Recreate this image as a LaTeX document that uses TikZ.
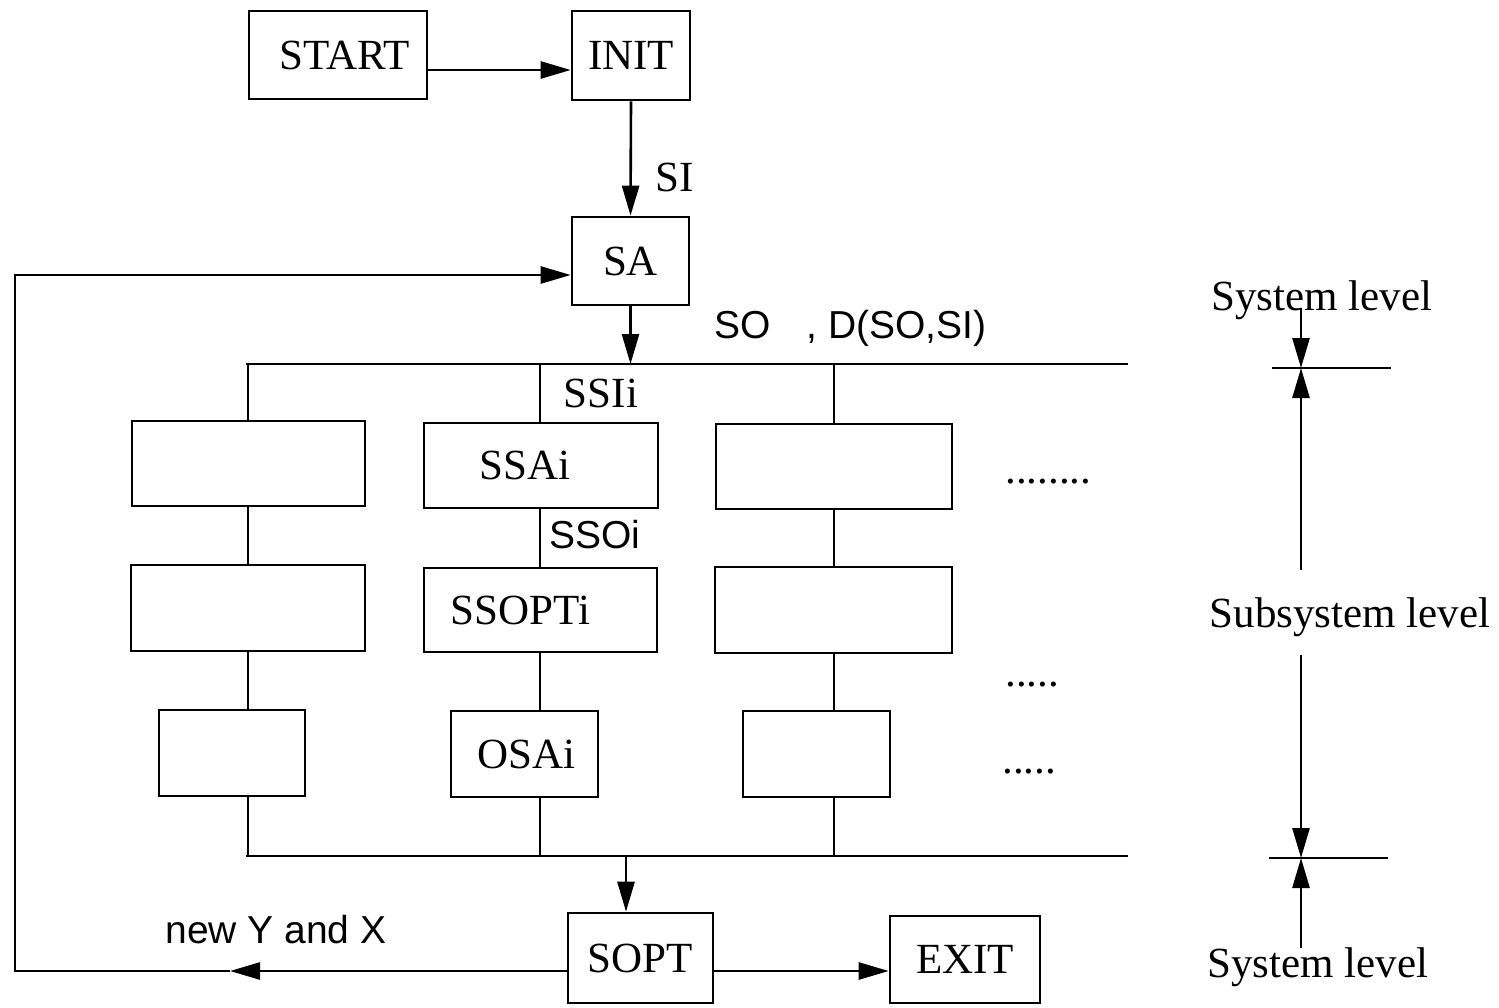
\documentclass[tikz,border=0pt]{standalone}
\usepackage{fontspec}
\setmainfont{Liberation Serif}
\newfontfamily\sansf{Liberation Sans}
\usetikzlibrary{arrows.meta,calc}
\begin{document}
\begin{tikzpicture}[x=0.5pt,y=-0.5pt, line width=1.3pt,
  box/.style={draw, rectangle, inner sep=0pt},
  lbl/.style={font=\fontsize{21.5pt}{24pt}\selectfont, inner sep=0pt},
  slbl/.style={font=\sansf\fontsize{19.5pt}{22pt}\selectfont, inner sep=0pt},
  arr/.style={-{Triangle[length=15pt,width=8.5pt]}},
  bus/.style={line width=1.3pt}]
\useasboundingbox (0,0) rectangle (1499,1007);

% top chain
\node[box, lbl, minimum width=89pt, minimum height=44pt] (start) at (338,55) {\hspace*{7pt}START};
\node[box, lbl, minimum width=59pt, minimum height=44.5pt] (init) at (631,55.5) {INIT};
\node[box, lbl, minimum width=58.5pt, minimum height=44pt] (sa) at (630.5,261) {SA};

\coordinate (sy) at (0,70);
\draw[arr] (start.east |- sy) -- (init.west |- sy);
\draw[arr] (init.south) -- (sa.south |- sa.north);
\node[lbl] (si) at (675,177) {SI};

% buses
\coordinate (tbL) at (246,364);
\coordinate (tbR) at (1128,364);
\coordinate (bbL) at (246,856);
\coordinate (bbR) at (1128,856);
\draw[bus] (tbL) -- (tbR);
\draw[bus] (bbL) -- (bbR);
\draw[arr] (sa.south) -- (sa.south |- tbL);
\node[slbl, anchor=base west] (so) at (713,338) {SO\hspace{18pt}, D(SO,SI)};

% subsystem boxes
\node[box, minimum width=116.5pt, minimum height=42.5pt] (l1) at (248.5,463.5) {};
\node[box, minimum width=117pt, minimum height=42.5pt, label={[lbl,xshift=-8pt]center:SSAi}] (m1) at (541,465.5) {};
\node[box, minimum width=118pt, minimum height=42.5pt] (r1) at (834,466.5) {};
\node[box, minimum width=117pt, minimum height=43pt] (l2) at (248,608) {};
\node[box, minimum width=116.5pt, minimum height=42pt, label={[lbl,xshift=-10pt]center:SSOPTi}] (m2) at (540.5,610) {};
\node[box, minimum width=118.5pt, minimum height=43pt] (r2) at (833.5,610) {};
\node[box, minimum width=73pt, minimum height=43pt] (l3) at (232,753) {};
\node[box, minimum width=73.5pt, minimum height=43pt, label={[lbl,xshift=1pt]center:OSAi}] (m3) at (524.5,754) {};
\node[box, minimum width=73.5pt, minimum height=43pt] (r3) at (816.5,754) {};

\node[lbl] (ssi) at (601,393) {SSIi};
\node[slbl] (sso) at (595,535) {SSOi};

% column connectors
\foreach \c/\x in {1/248,2/540,3/834}{
  \coordinate (c\c) at (\x,0);
}
\foreach \c/\col in {1/l,2/m,3/r}{
  \draw (c\c |- tbL) -- (c\c |- \col1.north);
  \draw (c\c |- \col1.south) -- (c\c |- \col2.north);
  \draw (c\c |- \col2.south) -- (c\c |- \col3.north);
  \draw (c\c |- \col3.south) -- (c\c |- bbL);
}

% dots
\node[lbl, anchor=base west] (d1) at (1004,483) {........};
\node[lbl, anchor=base west] (d2) at (1004,686) {.....};
\node[lbl, anchor=base west] (d3) at (1001,773) {.....};

% bottom
\node[box, lbl, minimum width=72.5pt, minimum height=45pt] (sopt) at (640.5,958) {SOPT};
\node[box, lbl, minimum width=75pt, minimum height=43.5pt] (exit) at (965,959.5) {EXIT};
\coordinate (sd) at (626,856);
\draw[arr] (sd) -- (sd |- sopt.north);
\coordinate (ey) at (0,971);
\draw[arr] (sopt.east |- ey) -- (exit.west |- ey);

% feedback loop
\coordinate (fbt) at (230,971);
\coordinate (fbc1) at (15,971);
\coordinate (fbc2) at (15,275);
\draw[arr] (sopt.west |- fbt) -- (fbt);
\draw[arr] (fbt) -- (fbc1) -- (fbc2) -- (sa.west |- fbc2);
\node[slbl] (newyx) at (276,930) {new Y and X};

% right-side level markers
\node[lbl, anchor=base] (sys1) at (1322,310) {System level};
\node[lbl, anchor=base] (sub) at (1350,627) {Subsystem level};
\node[lbl, anchor=base] (sys2) at (1318,977) {System level};
\coordinate (a1) at (1301,308);
\coordinate (a2) at (1301,368);
\coordinate (a3) at (1301,570);
\coordinate (a4) at (1301,655);
\coordinate (a5) at (1301,858);
\coordinate (a6) at (1301,948);
\coordinate (h1l) at (1272,368);
\coordinate (h1r) at (1391,368);
\coordinate (h2l) at (1269,858);
\coordinate (h2r) at (1388,858);
\draw (h1l) -- (h1r);
\draw (h2l) -- (h2r);
\draw[arr] (a1) -- (a2);
\draw[arr] (a3) -- (a2);
\draw[arr] (a4) -- (a5);
\draw[arr] (a6) -- (a5);
\end{tikzpicture}
\end{document}
